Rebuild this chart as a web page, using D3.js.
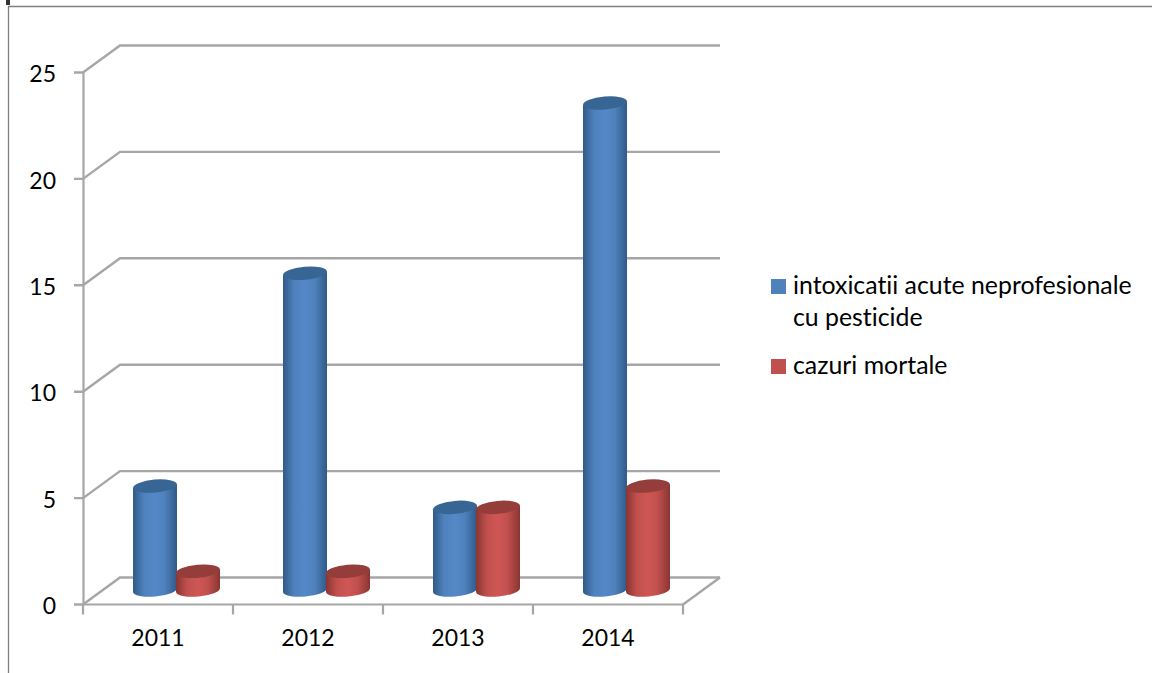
<!DOCTYPE html>
<html><head><meta charset="utf-8">
<script src="https://cdn.jsdelivr.net/npm/d3@7"></script>
<style>html,body{margin:0;padding:0;background:#fff}svg{display:block}text{font-family:Lato,"Open Sans",sans-serif;fill:#000;font-variant-ligatures:none}</style>
</head><body><svg id="c" width="1152" height="673"></svg>
<script>
const years = ["2011","2012","2013","2014"];
const intoxicatii = [5,15,4,23];
const mortale = [1,1,4,5];
const seriesNames = [["intoxicatii acute neprofesionale","cu pesticide"],["cazuri mortale"]];
const yTicks = [0,5,10,15,20,25];
const palette = [{base:"#4f81bd",mid:"#5488c8",dark:"#2f5a88",cap:"#386694"},{base:"#c0504d",mid:"#cf5654",dark:"#8a3532",cap:"#953d3a"}];

const svg = d3.select("#c");
const x = d3.scaleBand().domain(years).range([83,683]);
const y = d3.scaleLinear().domain([0,25]).range([604.5,72.5]);
const dx = 37, dy = -27, backEnd = 720;
const defs = svg.append("defs");
defs.append("filter").attr("id","soft").attr("filterUnits","userSpaceOnUse").attr("x",0).attr("y",0).attr("width",1152).attr("height",673)
  .append("feGaussianBlur").attr("stdDeviation",0.7);
palette.forEach((p,i)=>{
  const g = defs.append("linearGradient").attr("id","g"+i);
  [[0,p.dark],[.25,p.base],[.5,p.mid],[.72,p.base],[1,p.dark]].forEach(s=>g.append("stop").attr("offset",s[0]).attr("stop-color",s[1]));
});

// frame
svg.append("path").attr("d","M8.5,673V6.5H1152").attr("fill","none").attr("stroke","#7f7f7f").attr("stroke-width",1.3);
svg.append("rect").attr("x",6).attr("y",0).attr("width",4).attr("height",5).attr("fill","#333");

const soft = svg.append("g").attr("filter","url(#soft)");
const wall = soft.append("g").attr("fill","none").attr("stroke","#a6a6a6").attr("stroke-width",2.4);
yTicks.forEach(t=>{
  wall.append("path").attr("d",d3.line()([[x.range()[0]-9,y(t)],[x.range()[0],y(t)],[x.range()[0]+dx,y(t)+dy],[backEnd,y(t)+dy]]));
});
// floor right side
wall.append("path").attr("d",d3.line()([[x.range()[1],y(0)],[backEnd,y(0)+dy]]));

// axis rules (blurred with the plot)
const ruleL = soft.append("g").attr("transform","translate(83,0)")
  .call(d3.axisLeft(y).tickValues(yTicks).tickSize(0).tickFormat(""));
const ruleB = soft.append("g").attr("transform",`translate(0,${y(0)})`)
  .call(d3.axisBottom(x).tickSize(0).tickFormat(""));
[ruleL,ruleB].forEach(g=>g.selectAll("path,line").attr("stroke","#a6a6a6").attr("stroke-width",2.2));
ruleB.select(".domain").attr("d","M83,0H683");
soft.append("g").selectAll("line").data(d3.range(5)).join("line")
  .attr("x1",i=>83+i*x.bandwidth()).attr("x2",i=>83+i*x.bandwidth())
  .attr("y1",y(0)).attr("y2",y(0)+10).attr("stroke","#a6a6a6").attr("stroke-width",2.2);

// axis labels (sharp)
const gl = svg.append("g").attr("transform","translate(83,0)")
  .call(d3.axisLeft(y).tickValues(yTicks).tickSize(9).tickPadding(18).tickSizeOuter(0));
const gb = svg.append("g").attr("transform",`translate(0,${y(0)})`)
  .call(d3.axisBottom(x).tickSize(0).tickPadding(25));
[gl,gb].forEach(g=>{g.selectAll("path,line").remove();g.selectAll("text").attr("font-size",23).attr("font-family","Lato").attr("fill","#000");});
gl.selectAll("text").attr("dy","0.4em");

// cylinders
const W = 44, rx = 22, ry = 6.5, rot = -5, liftB = 14.5, liftT = 12, tiltDy = rx*Math.tan(-rot*Math.PI/180);
const offs = [50,93];
const bars = soft.append("g");
[intoxicatii,mortale].forEach((vals,si)=>{
  vals.forEach((v,i)=>{
    const x0 = x(years[i])+offs[si], x1 = x0+W, cx = x0+rx;
    const yb = y(0)-liftB, yt = y(v)-liftT;
    bars.append("path")
      .attr("d",`M${x0},${yt+tiltDy}L${x0},${yb+tiltDy}A${rx},${ry},${rot},0,0,${x1},${yb-tiltDy}L${x1},${yt-tiltDy}Z`)
      .attr("fill",`url(#g${si})`);
    bars.append("ellipse").attr("cx",cx).attr("cy",yt).attr("rx",rx).attr("ry",ry)
      .attr("transform",`rotate(${rot},${cx},${yt})`).attr("fill",palette[si].cap);
  });
});

// legend
const leg = svg.append("g");
const legY = [286,366];
seriesNames.forEach((lines,i)=>{
  leg.append("rect").attr("x",771).attr("y",legY[i]-7).attr("width",15).attr("height",15).attr("fill",palette[i].base);
  lines.forEach((s,j)=>leg.append("text").attr("x",793).attr("y",legY[i]+8+j*32).attr("font-size",24.85).text(s));
});
</script></body></html>
